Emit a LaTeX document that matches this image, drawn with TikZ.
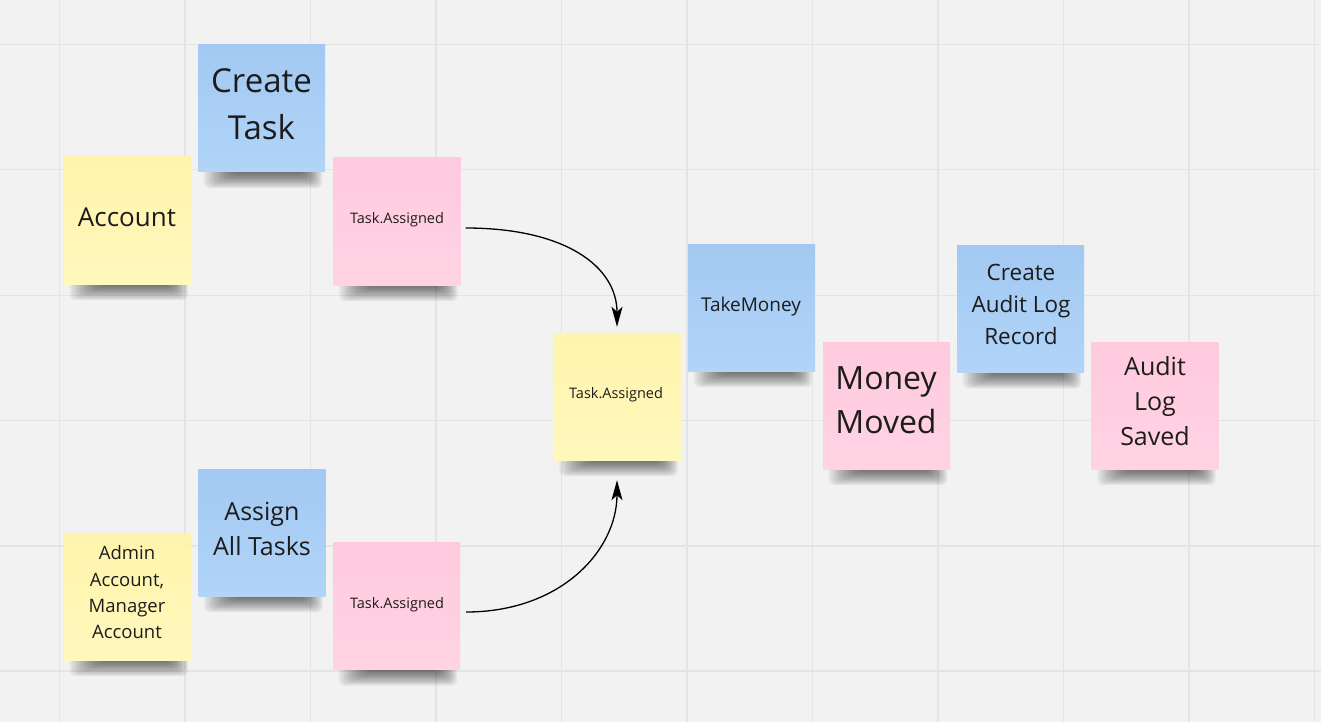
\documentclass[tikz,border=0pt]{standalone}
\usepackage{fontspec}
\setmainfont{Open Sans}
\usetikzlibrary{arrows.meta}
\definecolor{bgc}{HTML}{F2F2F2}
\definecolor{gridc}{HTML}{E4E4E4}
\definecolor{yelT}{HTML}{FFF4AC}
\definecolor{yelB}{HTML}{FFF8BD}
\definecolor{bluT}{HTML}{A3C9F2}
\definecolor{bluB}{HTML}{B1D4F8}
\definecolor{pnkT}{HTML}{FFCADE}
\definecolor{pnkB}{HTML}{FFD3E3}
\definecolor{ink}{HTML}{1C1C1C}
\pgfdeclarelayer{bg}
\pgfdeclarelayer{shl}
\pgfsetlayers{bg,shl,main}
\newcommand\stickyshadow[1]{%
  \begin{pgfonlayer}{shl}
  \foreach \i in {0,...,11}{
    \fill[black,opacity=0.055,rounded corners=6pt]
      ([xshift={6pt+2.6pt*\i},yshift=6pt]#1.south west) rectangle
      ([xshift={-3pt-1.6pt*\i},yshift={-16pt+1.3pt*\i}]#1.south east);
  }
  \end{pgfonlayer}}
\begin{document}
\begin{tikzpicture}[x=1pt,y=-1pt,
  gridline/.style={draw=gridc,line width=1.2pt},
  sticky/.style={rectangle,minimum width=127pt,minimum height=127pt,inner sep=0pt},
  yellownote/.style={sticky,top color=yelT,bottom color=yelB},
  bluenote/.style={sticky,top color=bluT,bottom color=bluB},
  pinknote/.style={sticky,top color=pnkT,bottom color=pnkB},
  txt/.style={align=center,text=ink,inner sep=0pt},
  conn/.style={draw=black,line width=1.3pt,-{Stealth[length=20pt,width=11pt,inset=5pt]}}
]
\useasboundingbox (0,0) rectangle (1321,722);
\begin{pgfonlayer}{bg}
  \fill[bgc] (0,0) rectangle (1321,722);
  \foreach \gx in {59.5,185,310.5,436,561.5,687,812.5,938,1063.5,1189,1314.5}
    \draw[gridline] (\gx,0) -- (\gx,722);
  \foreach \gy in {44.3,169.5,295.5,420.5,546,671}
    \draw[gridline] (0,\gy) -- (1321,\gy);
\end{pgfonlayer}

% notes
\node[bluenote]   (ct)  at (261.5,108.5) {};
\node[yellownote] (acc) at (127.5,220.5) {};
\node[pinknote]   (ta1) at (397,221.5) {};
\node[yellownote] (tc)  at (617,396.5) {};
\node[bluenote]   (tm)  at (751.5,307.5) {};
\node[pinknote]   (mm)  at (886.5,405.5) {};
\node[bluenote]   (cal) at (1020.5,309) {};
\node[pinknote]   (als) at (1155,405.5) {};
\node[yellownote] (adm) at (127.5,596.5) {};
\node[bluenote]   (aat) at (262,532.5) {};
\node[pinknote]   (ta2) at (396.5,606) {};

\stickyshadow{ct}
\stickyshadow{acc}
\stickyshadow{ta1}
\stickyshadow{tc}
\stickyshadow{tm}
\stickyshadow{mm}
\stickyshadow{cal}
\stickyshadow{als}
\stickyshadow{adm}
\stickyshadow{aat}
\stickyshadow{ta2}

% texts
\node[txt,font=\fontsize{33}{47}\selectfont] (ct-t) at (261.5,104) {Create\\Task};
\node[txt,font=\fontsize{26}{35}\selectfont] (acc-t) at (127,217) {Account};
\node[txt,font=\fontsize{14.5}{20}\selectfont] (ta1-t) at (397,220) {Task.Assigned};
\node[txt,font=\fontsize{14.5}{20}\selectfont] (tc-t) at (616,395) {Task.Assigned};
\node[txt,font=\fontsize{19}{26}\selectfont] (tm-t) at (751,307) {TakeMoney};
\node[txt,font=\fontsize{32}{44}\selectfont] (mm-t) at (886,400) {Money\\Moved};
\node[txt,font=\fontsize{22.5}{32}\selectfont] (cal-t) at (1021,304) {Create\\Audit Log\\Record};
\node[txt,font=\fontsize{25}{35}\selectfont] (als-t) at (1155,401) {Audit\\Log\\Saved};
\node[txt,font=\fontsize{18.5}{26.3}\selectfont] (adm-t) at (127,592.5) {Admin\\Account,\\Manager\\Account};
\node[txt,font=\fontsize{25}{35}\selectfont] (aat-t) at (262,528.5) {Assign\\All Tasks};
\node[txt,font=\fontsize{14.5}{20}\selectfont] (ta2-t) at (397,605) {Task.Assigned};

% connectors
\draw[conn] ([xshift=5pt,yshift=-6.5pt]ta1.east) .. controls +(100,0) and +(0,-60) .. ([yshift=6pt]tc.north);
\draw[conn] ([xshift=6pt,yshift=-6pt]ta2.east) .. controls +(95,0) and +(0,70) .. ([yshift=-20pt]tc.south);
\end{tikzpicture}
\end{document}
